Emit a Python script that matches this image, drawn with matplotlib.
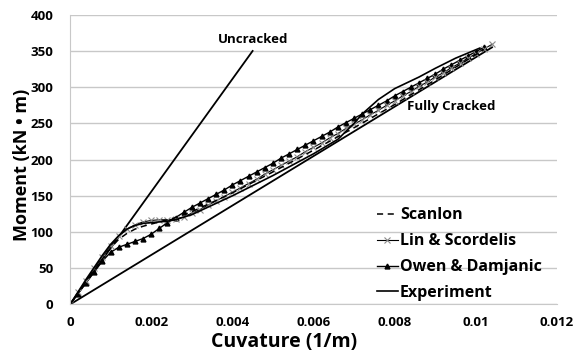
import matplotlib

matplotlib.use("Agg")

import matplotlib.pyplot as plt

plt.rcParams["font.family"] = ["Open Sans", "DejaVu Sans"]
plt.rcParams["font.weight"] = "bold"

# curvature (1/m) and moment (kN m)
owen_k = [0, 0.0002, 0.0004, 0.0006, 0.0008, 0.001, 0.0012, 0.0014, 0.0016, 0.0018,
          0.002, 0.0022, 0.0024, 0.0026, 0.0028, 0.003, 0.0032, 0.0034, 0.0036, 0.0038,
          0.004, 0.0042, 0.0044, 0.0046, 0.0048, 0.005, 0.0052, 0.0054, 0.0056, 0.0058,
          0.006, 0.0062, 0.0064, 0.0066, 0.0068, 0.007, 0.0072, 0.0074, 0.0076, 0.0078,
          0.008, 0.0082, 0.0084, 0.0086, 0.0088, 0.009, 0.0092, 0.0094, 0.0096, 0.0098,
          0.01, 0.0102]
owen_m = [0, 15, 30, 45, 60, 72, 79, 83, 87, 91,
          97, 105, 113, 120, 127, 134, 140, 146, 152, 158,
          165, 171, 177, 183, 189, 195, 202, 208, 214, 220,
          226, 232, 238, 245, 251, 257, 263, 269, 275, 281,
          288, 294, 300, 306, 312, 318, 325, 331, 337, 343,
          349, 355]

lin_k = [0, 0.0002, 0.0004, 0.0006, 0.0008, 0.001, 0.0012, 0.0014, 0.0016, 0.0018,
         0.002, 0.0022, 0.0024, 0.0026, 0.0028, 0.003, 0.0032, 0.0034, 0.0036, 0.0038,
         0.004, 0.0042, 0.0044, 0.0046, 0.0048, 0.005, 0.0052, 0.0054, 0.0056, 0.0058,
         0.006, 0.0062, 0.0064, 0.0066, 0.0068, 0.007, 0.0072, 0.0074, 0.0076, 0.0078,
         0.008, 0.0082, 0.0084, 0.0086, 0.0088, 0.009, 0.0092, 0.0094, 0.0096, 0.0098,
         0.01, 0.0102, 0.0104]
lin_m = [0, 17, 33, 50, 65, 81, 94, 104, 110, 114,
         116, 117, 117, 118, 121, 126, 131, 137, 143, 149,
         155, 161, 167, 173, 180, 186, 192, 198, 204, 211,
         217, 223, 230, 236, 243, 249, 255, 262, 268, 275,
         281, 288, 294, 301, 307, 314, 320, 327, 333, 340,
         346, 353, 359]

scanlon_k = [0, 0.0004, 0.0008, 0.001, 0.0012, 0.0014, 0.0016, 0.0018, 0.002, 0.0022,
             0.0024, 0.0026, 0.003, 0.004, 0.005, 0.006, 0.007, 0.008, 0.009, 0.0102]
scanlon_m = [0, 32, 63, 78, 90, 98, 104, 108, 111, 114,
             117, 120, 128, 154, 183, 213, 244, 276, 310, 352]

exp_k = [0, 0.0004, 0.0008, 0.001, 0.0012, 0.0014, 0.0016, 0.0018, 0.002, 0.0022,
         0.0024, 0.0026, 0.003, 0.004, 0.005, 0.006, 0.0066, 0.007, 0.0072, 0.0076,
         0.008, 0.0086, 0.009, 0.0095, 0.0101]
exp_m = [0, 35, 68, 83, 95, 104, 109, 112, 113, 114,
         115, 117, 124, 150, 178, 208, 228, 250, 263, 283,
         298, 314, 326, 340, 354]

uncracked_k = [0, 0.0045]
uncracked_m = [0, 350]
cracked_k = [0, 0.0104]
cracked_m = [0, 355]

fig = plt.figure(figsize=(5.77, 3.51), dpi=100)
ax = fig.add_axes([0.1213, 0.1325, 0.8440, 0.8255])

ax.plot(uncracked_k, uncracked_m, color="black", lw=1.3)
ax.plot(cracked_k, cracked_m, color="black", lw=1.3)
ax.plot(owen_k, owen_m, color="black", lw=1.0, marker="^", ms=3.5,
        label="Owen & Damjanic")
ax.plot(lin_k, lin_m, color="black", lw=0.8, marker="x", ms=4, mec="#8a8a8a",
        mew=0.8, label="Lin & Scordelis")
ax.plot(scanlon_k, scanlon_m, color="black", lw=1.1, ls=(0, (4, 3)),
        label="Scanlon")
ax.plot(exp_k, exp_m, color="black", lw=1.2, label="Experiment")

ax.set_xlim(0, 0.012)
ax.set_ylim(0, 400)
ax.set_xticks([0, 0.002, 0.004, 0.006, 0.008, 0.01, 0.012])
ax.set_xticklabels(["0", "0.002", "0.004", "0.006", "0.008", "0.01", "0.012"])
ax.set_yticks(range(0, 401, 50))
ax.tick_params(axis="x", length=0, labelsize=9.5, pad=8)
ax.tick_params(axis="y", length=0, labelsize=9.5, pad=12)
ax.grid(axis="y", color="#c8c8c8", lw=1.0)
ax.set_axisbelow(True)
for side in ["top", "right"]:
    ax.spines[side].set_visible(False)
for side in ["left", "bottom"]:
    ax.spines[side].set_color("#c8c8c8")

ax.text(0.0045, 357, "Uncracked", fontsize=9.5, fontweight="bold",
        ha="center", va="bottom")
ax.text(0.00939, 274, "Fully Cracked", fontsize=9.5, fontweight="bold",
        ha="center", va="center")

handles, labels = ax.get_legend_handles_labels()
order = [labels.index(n) for n in
         ["Scanlon", "Lin & Scordelis", "Owen & Damjanic", "Experiment"]]
ax.legend([handles[i] for i in order], [labels[i] for i in order],
          frameon=False, fontsize=11.5, loc="lower left",
          bbox_to_anchor=(0.617, -0.01), handlelength=1.3, handletextpad=0.15,
          labelspacing=0.62, borderaxespad=0.0)

fig.text(284 / 577, 1 - 342 / 351, "Cuvature (1/m)", fontsize=14,
         fontweight="bold", ha="center", va="center")
fig.text(22 / 577, 1 - 165 / 351, "Moment (kN • m)", fontsize=13,
         fontweight="bold", ha="center", va="center", rotation=90)

fig.savefig("out.png", dpi=100)
